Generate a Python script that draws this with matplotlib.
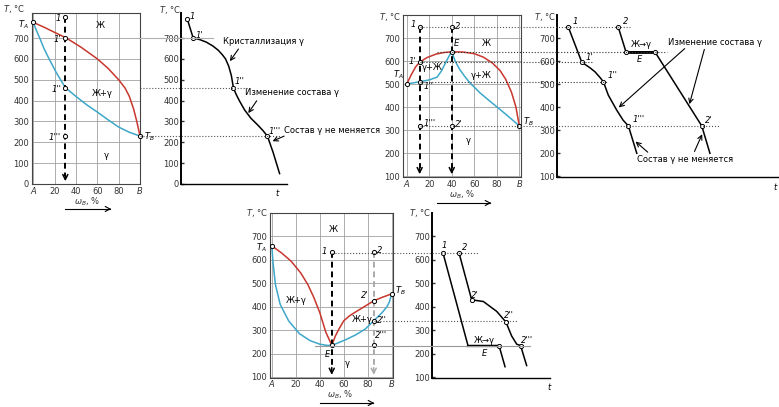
import matplotlib
matplotlib.use('Agg')
import matplotlib.pyplot as plt
from matplotlib.lines import Line2D

W, H = 779, 407
RED = '#c8372d'
BLUE = '#3da7c9'
GRID = '#a0a0a0'
FS = 6

# ---- panel 1: phase diagram, unlimited solubility
p1_liq_x = [0, 10, 20, 31, 45, 60, 70, 80, 86, 90, 94, 97, 100]
p1_liq_T = [775, 752, 727, 700, 655, 600, 555, 500, 460, 420, 360, 300, 230]
p1_sol_x = [0, 3, 6, 10, 15, 22, 30, 40, 50, 60, 70, 80, 90, 100]
p1_sol_T = [775, 735, 700, 650, 598, 530, 462, 420, 380, 345, 308, 273, 248, 230]
p1_alloy = 30
p1_pts_T = [800, 700, 460, 230]
p1_pts_lbl = ['1', "1'", "1''", "1'''"]

# ---- panel 2: cooling curve of alloy 1
p2_x = [6, 11.5, 18, 24, 30, 35, 39, 42, 45, 47.5, 49.5, 52, 55, 60, 66, 72, 77, 81.5, 87, 93]
p2_T = [790, 700, 692, 680, 662, 642, 620, 600, 565, 520, 460, 430, 400, 355, 315, 285, 258, 230, 150, 50]
p2_pts_x = [6, 11.5, 49.5, 81.5]

# ---- panel 3: phase diagram with maximum point E
p3_liq_x = [0, 4, 8, 11.5, 18, 26, 33, 40, 50, 60, 68, 76, 83, 88, 93, 97, 100]
p3_liq_T = [500, 540, 575, 595, 615, 630, 637, 640, 639, 632, 617, 592, 558, 520, 465, 400, 318]
p3_sol_x = [0, 11.5, 20, 27, 31, 35.5, 38, 40, 43, 47, 52, 56, 65, 74, 83, 92, 100]
p3_sol_T = [500, 510, 518, 530, 558, 602, 625, 640, 600, 564, 530, 506, 462, 425, 389, 352, 318]
p3_alloys = [11.5, 40]
p3_pts1_T = [748, 595, 510, 318]
p3_pts2_T = [748, 640, 318]

# ---- panel 4: cooling curves of alloys 1 and 2
p4_c1_x = [5.1, 11.2, 15, 17.2, 19.5, 21, 23.2, 27, 29.9, 32.3, 36.1]
p4_c1_T = [748, 595, 570, 553, 528, 510, 452, 387, 343, 318, 199]
p4_c1_pts = [0, 1, 5, 9]
p4_c2_x = [27.7, 31.2, 44.3, 65.5, 69.2]
p4_c2_T = [748, 640, 640, 318, 199]

# ---- panel 5: phase diagram with minimum point E
p5_liqL_x = [0, 8, 16, 24, 30, 35, 40, 45, 50]
p5_liqL_T = [660, 630, 595, 545, 495, 440, 375, 292, 235]
p5_liqR_x = [50, 53, 56, 60, 65, 70, 77, 85, 92, 100]
p5_liqR_T = [235, 275, 305, 340, 362, 378, 400, 425, 440, 455]
p5_solL_x = [0, 1, 3, 7, 14, 23, 32, 40, 46, 50]
p5_solL_T = [660, 590, 495, 410, 340, 285, 255, 240, 235, 235]
p5_solR_x = [50, 55, 62, 70, 78, 85, 92, 96, 98, 100]
p5_solR_T = [235, 245, 260, 280, 305, 340, 375, 400, 420, 455]
p5_alloys = [50, 85]

# ---- panel 6: cooling curves of alloys 1 and 2
p6_c1_x = [9.3, 30.5, 56.8, 61.9]
p6_c1_T = [630, 235, 235, 145]
p6_c2_x = [22.9, 33.6, 43.5, 54.8, 62.7, 67.5, 71.8, 75.1, 80.2]
p6_c2_T = [630, 430, 423, 381, 335, 276, 241, 235, 150]
p6_c2_pts = [0, 1, 4, 7]


def px_rect(l, t, r, b):
    return [l / W, 1 - b / H, (r - l) / W, (b - t) / H]


fig = plt.figure(figsize=(W / 100, H / 100), dpi=100)


def phase_ax(rect, xlim, ylim, yticks):
    ax = fig.add_axes(rect)
    ax.set_xlim(*xlim)
    ax.set_ylim(*ylim)
    ax.set_xticks([0, 20, 40, 60, 80, 100], ['A', '20', '40', '60', '80', 'B'])
    ax.set_yticks(yticks)
    ax.grid(True, color=GRID, lw=0.6)
    ax.tick_params(length=0, labelsize=FS, pad=2, colors='#333333')
    for s in ax.spines.values():
        s.set_linewidth(0.8)
        s.set_color('#444444')
    labs = ax.get_xticklabels()
    labs[0].set_style('italic')
    labs[-1].set_style('italic')
    return ax


def cool_ax(rect, ylim, yticks):
    ax = fig.add_axes(rect)
    ax.set_xlim(0, 100)
    ax.set_ylim(*ylim)
    ax.set_xticks([])
    ax.set_yticks(yticks)
    ax.spines[['top', 'right']].set_visible(False)
    ax.spines['left'].set_linewidth(1.4)
    ax.spines['bottom'].set_linewidth(1.0)
    ax.tick_params(axis='y', direction='in', length=2, width=1, labelsize=FS, pad=1.5,
                   colors='#333333')
    ax.patch.set_alpha(0)
    return ax


def dots(ax, x, y):
    ax.plot(x, y, 'o', ms=3, mfc='white', mec='k', mew=0.7, zorder=6, clip_on=False)


def drop(ax, x, top, bottom, color='k'):
    ax.plot([x, x], [top, bottom + 40], ls=(0, (3, 2)), lw=1.4, color=color, zorder=4)
    ax.annotate('', xy=(x, bottom), xytext=(x, bottom + 55),
                arrowprops=dict(arrowstyle='->', color=color, lw=1.1, mutation_scale=9))


def link(ax_a, xa, ax_b, xb, T, ls=':', color='#555555', lw=0.8):
    p0 = ax_a.transData.transform((xa, T))
    p1 = ax_b.transData.transform((xb, T))
    inv = fig.transFigure.inverted()
    (x0, _), (x1, y1) = inv.transform([p0, p1])
    fig.add_artist(Line2D([x0, x1], [y1, y1], ls=ls, color=color, lw=lw, zorder=1))


def arrow(ax, head, tail):
    ax.annotate('', xy=head, xytext=tail, annotation_clip=False,
                arrowprops=dict(arrowstyle='->', color='k', lw=0.8, mutation_scale=8))


def ftext(px, py, s, **kw):
    fig.text(px / W, 1 - py / H, s, fontsize=FS, va='center', **kw)


def wlabel(px, py, x0, x1, ya):
    ftext(px, py, r'$\omega_B$, %', ha='center', color='#333333')
    fig.add_artist(Line2D([x0 / W, x1 / W], [1 - ya / H] * 2, color='k', lw=0.8))
    fig.add_artist(Line2D([x1 / W - 0.006, x1 / W], [1 - ya / H + 0.006, 1 - ya / H],
                          color='k', lw=0.8))
    fig.add_artist(Line2D([x1 / W - 0.006, x1 / W], [1 - ya / H - 0.006, 1 - ya / H],
                          color='k', lw=0.8))


txt = dict(fontsize=FS, va='center')

# ===== panel 1 =====
ax1 = phase_ax(px_rect(31.7, 13, 140, 184), (-1.5, 100), (0, 820), range(0, 800, 100))
ax1.plot(p1_liq_x, p1_liq_T, color=RED, lw=1.1, zorder=3)
ax1.plot(p1_sol_x, p1_sol_T, color=BLUE, lw=1.1, zorder=3)
drop(ax1, p1_alloy, p1_pts_T[0], 0)
dots(ax1, [p1_alloy] * 4, p1_pts_T)
dots(ax1, [0, 100], [p1_liq_T[0], p1_liq_T[-1]])
for T, s in zip(p1_pts_T, p1_pts_lbl):
    ax1.text(p1_alloy - 4, T - 8, s, ha='right', style='italic', **txt)
ax1.text(63, 762, 'Ж', ha='center', **txt)
ax1.text(65, 434, 'Ж+γ', ha='center', **txt)
ax1.text(68, 137, 'γ', ha='center', **txt)
ax1.text(-4, 765, r'$T_A$', ha='right', **txt)
ax1.text(104, 228, r'$T_B$', ha='left', **txt)

# ===== panel 2 =====
ax2 = cool_ax(px_rect(181, 13, 287, 184), (0, 820), range(0, 800, 100))
ax2.plot(p2_x, p2_T, color='k', lw=1.1)
dots(ax2, p2_pts_x, [p2_T[p2_x.index(v)] for v in p2_pts_x])
ax2.text(8, 805, '1', ha='left', style='italic', **txt)
ax2.text(14, 712, "1'", ha='left', style='italic', **txt)
ax2.text(51, 492, "1''", ha='left', style='italic', **txt)
ax2.text(83, 250, "1'''", ha='left', style='italic', **txt)
ax2.text(40, 682, 'Кристаллизация γ', ha='left', **txt)
arrow(ax2, (44.6, 578), (55.7, 658))
ax2.text(60, 440, 'Изменение состава γ', ha='left', **txt)
arrow(ax2, (62, 329), (72.9, 410))
ax2.text(97, 256, 'Состав γ не меняется', ha='left', **txt)
arrow(ax2, (84, 200), (99.7, 235))
link(ax1, 100, ax2, 30, 700, ls='-', color='#b0b0b0')
link(ax1, 100, ax2, 63, 460)
link(ax1, 100, ax2, 93, 230)

# ===== panel 3 =====
ax3 = phase_ax(px_rect(403, 15, 521, 177), (-3.3, 101.5), (96, 800), range(100, 800, 100))
ax3.plot(p3_liq_x, p3_liq_T, color=RED, lw=1.1, zorder=3)
ax3.plot(p3_sol_x, p3_sol_T, color=BLUE, lw=1.1, zorder=3)
drop(ax3, p3_alloys[0], p3_pts1_T[0], 96)
drop(ax3, p3_alloys[1], p3_pts2_T[0], 96)
dots(ax3, [p3_alloys[0]] * 4, p3_pts1_T)
dots(ax3, [p3_alloys[1]] * 3, p3_pts2_T)
dots(ax3, [0, 100], [p3_liq_T[0], p3_liq_T[-1]])
ax3.text(8, 760, '1', ha='right', style='italic', **txt)
ax3.text(43, 752, '2', ha='left', style='italic', **txt)
ax3.text(42, 675, 'E', ha='left', style='italic', **txt)
ax3.text(8, 600, "1'", ha='right', style='italic', **txt)
ax3.text(15, 488, "1''", ha='left', style='italic', **txt)
ax3.text(15, 330, "1'''", ha='left', style='italic', **txt)
ax3.text(43, 325, "2'", ha='left', style='italic', **txt)
ax3.text(71, 678, 'Ж', ha='center', **txt)
ax3.text(23, 572, 'γ+Ж', ha='center', **txt)
ax3.text(66, 535, 'γ+Ж', ha='center', **txt)
ax3.text(55, 253, 'γ', ha='center', **txt)
ax3.text(-3, 540, r'$T_A$', ha='right', **txt)
ax3.text(103, 335, r'$T_B$', ha='left', **txt)

# ===== panel 4 =====
ax4 = cool_ax(px_rect(557, 15, 778, 177), (96, 800), range(100, 800, 100))
ax4.plot(p4_c1_x, p4_c1_T, color='k', lw=1.1)
ax4.plot(p4_c2_x, p4_c2_T, color='k', lw=1.1)
ax4.plot(p4_c2_x[1:3], p4_c2_T[1:3], color='k', lw=2)
dots(ax4, [p4_c1_x[i] for i in p4_c1_pts], [p4_c1_T[i] for i in p4_c1_pts])
dots(ax4, [p4_c2_x[i] for i in (0, 1, 2, 3)], [p4_c2_T[i] for i in (0, 1, 2, 3)])
ax4.text(7, 770, '1', ha='left', style='italic', **txt)
ax4.text(30, 770, '2', ha='left', style='italic', **txt)
ax4.text(13, 615, "1'", ha='left', style='italic', **txt)
ax4.text(23, 535, "1''", ha='left', style='italic', **txt)
ax4.text(34, 345, "1'''", ha='left', style='italic', **txt)
ax4.text(67, 342, "2'", ha='left', style='italic', **txt)
ax4.text(38, 672, 'Ж→γ', ha='center', **txt)
ax4.text(37.5, 605, 'E', ha='center', style='italic', **txt)
ax4.text(50, 680, 'Изменение состава γ', ha='left', **txt)
arrow(ax4, (27, 390), (58.7, 662))
arrow(ax4, (59.6, 401), (67, 662))
ax4.text(36, 172, 'Состав γ не меняется', ha='left', **txt)
arrow(ax4, (34.6, 258), (42, 196))
arrow(ax4, (66.2, 293), (61.7, 196))
link(ax3, p3_alloys[0], ax4, 33, 748)
link(ax3, 26.6, ax4, 50, 640, color='#333333')
link(ax3, p3_alloys[0], ax4, 16, 595, color='#333333')
link(ax3, p3_alloys[0], ax4, 22.6, 510, color='#333333')
link(ax3, p3_alloys[0], ax4, 73.8, 318)

# ===== panel 5 =====
ax5 = phase_ax(px_rect(270, 213, 393.3, 377.7), (-1.5, 101.3), (97, 800), range(100, 800, 100))
ax5.plot(p5_liqL_x, p5_liqL_T, color=RED, lw=1.1, zorder=3)
ax5.plot(p5_liqR_x, p5_liqR_T, color=RED, lw=1.1, zorder=3)
ax5.plot(p5_solL_x, p5_solL_T, color=BLUE, lw=1.1, zorder=3)
ax5.plot(p5_solR_x, p5_solR_T, color=BLUE, lw=1.1, zorder=3)
drop(ax5, p5_alloys[0], 635, 97)
drop(ax5, p5_alloys[1], 635, 97, color='#aaaaaa')
dots(ax5, [0, 100, 50, 50, 85, 85, 85, 85], [660, 455, 635, 235, 635, 425, 340, 235])
ax5.text(51, 728, 'Ж', ha='center', **txt)
ax5.text(20.6, 425, 'Ж+γ', ha='center', **txt)
ax5.text(75, 345, 'Ж+γ', ha='center', **txt)
ax5.text(63, 158, 'γ', ha='center', **txt)
ax5.text(46, 195, 'E', ha='center', style='italic', **txt)
ax5.text(-4, 650, r'$T_A$', ha='right', **txt)
ax5.text(103, 470, r'$T_B$', ha='left', **txt)
ax5.text(46, 635, '1', ha='right', style='italic', **txt)
ax5.text(88, 640, '2', ha='left', style='italic', **txt)
ax5.text(81, 448, "2'", ha='right', style='italic', **txt)
ax5.text(88, 340, "2''", ha='left', style='italic', **txt)
ax5.text(86, 275, "2'''", ha='left', style='italic', **txt)

# ===== panel 6 =====
ax6 = cool_ax(px_rect(432, 213, 550, 378), (97, 800), range(100, 800, 100))
ax6.plot(p6_c1_x, p6_c1_T, color='k', lw=1.1)
ax6.plot(p6_c2_x, p6_c2_T, color='k', lw=1.1)
ax6.plot(p6_c1_x[1:3], p6_c1_T[1:3], color='k', lw=1.6)
dots(ax6, [p6_c1_x[0], p6_c1_x[2]], [p6_c1_T[0], p6_c1_T[2]])
dots(ax6, [p6_c2_x[i] for i in p6_c2_pts], [p6_c2_T[i] for i in p6_c2_pts])
ax6.text(8, 660, '1', ha='left', style='italic', **txt)
ax6.text(25, 655, '2', ha='left', style='italic', **txt)
ax6.text(33, 450, "2'", ha='left', style='italic', **txt)
ax6.text(61, 365, "2''", ha='left', style='italic', **txt)
ax6.text(75, 258, "2'''", ha='left', style='italic', **txt)
ax6.text(44, 255, 'Ж→γ', ha='center', **txt)
ax6.text(44, 200, 'E', ha='center', style='italic', **txt)
link(ax5, p5_alloys[0], ax6, 39, 630)
link(ax5, p5_alloys[1], ax6, 73, 340)
link(ax5, 36, ax6, 83, 235, ls='-', color='#999999')

# ===== axis titles =====
for px, py in [(14, 9), (170, 10), (390, 17), (545, 17), (257, 213), (420, 213)]:
    ftext(px, py, r'$T$, °C', ha='center', color='#333333')
for px, py in [(278, 192), (776, 186), (550, 386)]:
    ftext(px, py, r'$t$', ha='center')
wlabel(87, 202, 65, 110, 209)
wlabel(462, 195, 437, 490, 203)
wlabel(340, 395, 320, 373, 403)

fig.savefig('out.png', dpi=100)
